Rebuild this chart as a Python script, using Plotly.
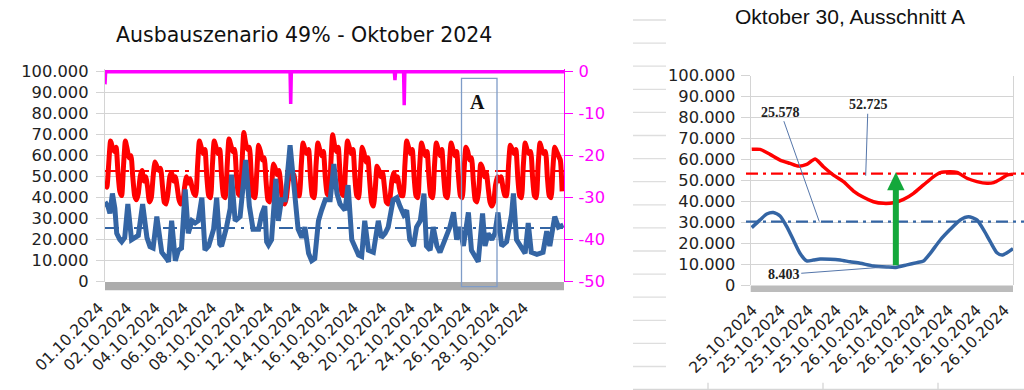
import plotly.graph_objects as go

W, H = 1024, 390

# ---------------- data: left chart (October 2024, hours since 01.10. 00:00) ----------------
# red series, 3-hourly samples per day (thousands)
red_day_hours = [0, 3, 6, 9, 12, 15, 18, 21]
red_daily_k = [
    [47, 45, 56, 67, 64, 62, 64, 52],  # 01 Tue
    [43, 41, 55, 67, 63, 59, 60, 50],  # 02
    [41, 39, 42, 50, 53, 48, 50, 45],  # 03 holiday
    [38, 40, 50, 57, 55, 53, 54, 46],  # 04
    [38, 37, 42, 50, 52, 48, 50, 45],  # 05 Sat
    [39, 37, 38, 45, 50, 47, 49, 45],  # 06 Sun
    [42, 41, 55, 67, 64, 61, 63, 50],  # 07
    [41, 40, 55, 67, 64, 61, 63, 50],  # 08
    [41, 40, 55, 68, 65, 62, 63, 51],  # 09
    [42, 41, 56, 71, 66, 63, 64, 51],  # 10
    [41, 40, 52, 65, 62, 58, 59, 48],  # 11
    [39, 38, 45, 56, 54, 51, 53, 46],  # 12 Sat
    [38, 37, 40, 48, 52, 49, 51, 46],  # 13 Sun
    [41, 41, 55, 66, 63, 61, 63, 50],  # 14
    [41, 40, 55, 66, 63, 60, 62, 50],  # 15
    [42, 41, 56, 70, 65, 62, 64, 51],  # 16
    [42, 41, 55, 67, 64, 61, 63, 50],  # 17
    [41, 40, 52, 64, 61, 57, 59, 48],  # 18
    [38, 36, 44, 55, 53, 50, 52, 45],  # 19 Sat
    [38, 37, 40, 48, 52, 48, 50, 45],  # 20 Sun
    [41, 41, 55, 67, 64, 61, 63, 50],  # 21
    [41, 40, 55, 66, 63, 60, 62, 50],  # 22
    [41, 40, 55, 66, 63, 60, 63, 50],  # 23
    [41, 40, 55, 66, 63, 60, 62, 50],  # 24
    [41, 40, 53, 64, 62, 58, 59, 48],  # 25
    [39, 38, 44, 56, 54, 50, 52, 45],  # 26 Sat
    [38, 36, 38, 46, 50, 48, 50, 45],  # 27 Sun
    [41, 41, 55, 65, 63, 61, 63, 50],  # 28
    [41, 40, 55, 66, 63, 61, 62, 50],  # 29
    [41, 40, 55, 66, 63, 61, 62, 50],  # 30
    [41, 40, 54, 64, 62, 60, 58, 43],  # 31
]

blue_hours = [0, 5, 8, 12, 16, 19, 24, 27, 32, 37, 43, 49, 54, 61, 68, 73, 78, 84, 88, 92,
              100, 103, 108, 114, 119, 124, 130, 135, 141, 146, 151, 157, 162, 168, 176, 181,
              186, 189, 197, 203, 205, 211, 219, 228, 234, 240, 249, 254, 259, 262, 265, 270,
              277, 281, 286, 292, 300, 308, 313, 319, 324, 330, 335, 340, 346, 351, 357, 365,
              371, 376, 381, 389, 394, 400, 405, 411, 416, 421, 427, 435, 443, 448, 454, 459,
              467, 473, 478, 484, 489, 494, 500, 505, 511, 517, 521, 527, 532, 538, 543, 548,
              554, 559, 565, 570, 575, 581, 589, 594, 600, 605, 612, 616, 621, 627, 632, 637,
              643, 651, 659, 662, 667, 673, 681, 686, 691, 700, 710, 716, 721, 729, 735, 743]
blue_k = [38, 35.7, 32.5, 42, 35, 23, 20, 19, 21, 37, 20, 21, 22, 37, 21, 16.7, 16, 31, 20, 14,
          11, 9.5, 29, 10, 15, 16, 44, 23, 29, 28, 29, 40, 15, 17, 25, 40,
          18, 17, 26, 35, 51, 29, 31, 58, 36, 25, 25, 32, 36, 19, 17.5, 20,
          49, 29, 39, 39, 65, 37, 25, 21, 26, 13.5, 10, 11, 29, 34, 39, 39,
          56, 42, 37, 34, 46, 20, 16.7, 12.7, 12, 29, 15, 14, 29, 21, 23, 26,
          39, 40, 36, 32, 34, 20, 17, 26, 29, 42, 17, 15, 26, 17, 14, 17.5,
          23, 26, 33, 20, 26, 17, 33, 15, 12, 9.5, 32.5, 17, 23, 20, 23, 33,
          17, 19, 32, 42, 20, 17, 13.5, 28, 14, 13, 14, 24, 17, 31, 26, 27]

magenta_hours = [0, 1, 300, 301, 302, 469, 470, 471, 484, 485, 486, 744]
magenta_vals = [-3, 0, 0, -7.7, 0, 0, -2, 0, 0, -8, 0, 0]

red_mean_left = 52725
blue_mean_left = 25578

left_xlabels = ["01.10.2024", "02.10.2024", "04.10.2024", "06.10.2024", "08.10.2024",
                "10.10.2024", "12.10.2024", "14.10.2024", "16.10.2024", "18.10.2024",
                "20.10.2024", "22.10.2024", "24.10.2024", "26.10.2024", "28.10.2024",
                "30.10.2024"]
left_y2_labels = ["-50", "-40", "-30", "-20", "-10", "0"]
left_y2_vals = [-50, -40, -30, -20, -10, 0]

# ---------------- data: right chart (hours since 25.10. 00:00) ----------------
r_hours = [12.14, 13.28, 14.66, 16.03, 17.40, 18.55, 19.69, 20.84, 21.98, 23.36, 24.73,
           26.11, 27.48, 28.85, 30.23, 31.60, 32.98, 34.35, 35.72, 37.10, 38.02, 39.39,
           40.31, 41.68, 43.05, 44.43, 45.34, 46.26, 47.18, 48.0]
r_red_k = [64.8, 64.8, 62.4, 59.7, 58.1, 56.8, 57.6, 60.2, 56.5, 52.5, 49.4,
           44.9, 41.9, 39.8, 39.0, 39.3, 40.9, 43.8, 47.8, 51.8, 53.7, 54.1,
           53.8, 51.0, 49.4, 48.6, 48.9, 50.5, 52.5, 52.9]
b_hours = [12.14, 13.28, 14.2, 15.11, 16.03, 16.95, 17.86, 18.78, 19.69, 20.61, 21.53,
           22.9, 24.27, 25.65, 27.02, 28.85, 30.69, 31.92, 33.44, 34.81, 35.72, 36.64,
           38.02, 39.39, 40.76, 41.91, 43.05, 43.97, 44.88, 45.80, 46.49, 47.18, 48.0]
b_blue_k = [27.4, 31.1, 33.9, 34.6, 33.0, 27.9, 21.5, 15.1, 11.5, 11.9, 12.4,
            12.3, 11.9, 11.1, 10.4, 9.1, 8.6, 8.403, 9.6, 10.7, 11.5, 15.1,
            21.5, 26.6, 31.1, 32.6, 31.1, 26.3, 20.7, 15.4, 14.3, 15.4, 17.4]
red_mean_right_line = 53200
blue_mean_right_line = 30250
right_xlabels = ["25.10.2024"] * 4 + ["26.10.2024"] * 6
value_labels = {"red_mean": "52.725", "blue_mean": "25.578", "blue_min": "8.403"}

# ---------------- helpers ----------------
def PX(x):
    return x / W


def PY(y):
    return 1 - y / H


RED = "#ff0000"
BLUE = "#3465a4"
MAG = "#ff00ff"
GRID = "#d4d4d4"
TXT = "#222222"
TICKFONT = dict(family="DejaVu Sans", size=15.5, color=TXT)
YTICKFONT = dict(family="DejaVu Sans", size=16.3, color=TXT)

red_hours = [d * 24 + h for d in range(len(red_daily_k)) for h in red_day_hours]
red_vals = [v * 1000 for day in red_daily_k for v in day]
blue_vals = [v * 1000 for v in blue_k]
r_red = [v * 1000 for v in r_red_k]
b_blue = [v * 1000 for v in b_blue_k]

fig = go.Figure()

# left chart: mean lines first (behind series)
fig.add_trace(go.Scatter(x=[0, 744], y=[red_mean_left] * 2, mode="lines", xaxis="x", yaxis="y",
                         line=dict(color=RED, width=2, dash="14px,6px,4px,6px"), hoverinfo="skip"))
fig.add_trace(go.Scatter(x=[0, 744], y=[blue_mean_left] * 2, mode="lines", xaxis="x", yaxis="y",
                         line=dict(color=BLUE, width=2, dash="14px,6px,3px,6px"), hoverinfo="skip"))
fig.add_trace(go.Scatter(x=red_hours, y=red_vals, mode="lines", xaxis="x", yaxis="y",
                         line=dict(color=RED, width=5, shape="spline", smoothing=0.5)))
fig.add_trace(go.Scatter(x=blue_hours, y=blue_vals, mode="lines", xaxis="x", yaxis="y",
                         line=dict(color=BLUE, width=5)))
fig.add_trace(go.Scatter(x=magenta_hours, y=magenta_vals, mode="lines", xaxis="x", yaxis="y2",
                         line=dict(color=MAG, width=3.5)))

# right chart
fig.add_trace(go.Scatter(x=r_hours, y=r_red, mode="lines", xaxis="x2", yaxis="y3",
                         line=dict(color=RED, width=3.5, shape="spline", smoothing=0.6)))
fig.add_trace(go.Scatter(x=b_hours, y=b_blue, mode="lines", xaxis="x2", yaxis="y3",
                         line=dict(color=BLUE, width=3.5, shape="spline", smoothing=0.6)))

# geometry
L_X0, L_X1 = 105, 564
L_YTOP, L_YBOT = 69, 281.7         # extended top so the 0-line is not clipped
L_Y100 = 71.7
yext = (L_YBOT - L_YTOP) / (L_YBOT - L_Y100)
R_X0, R_X1 = 750.7, 1013
R_YTOP, R_YBOT = 75.7, 285

n_l = len(left_xlabels)
l_step = 28.33 / (L_X1 - L_X0) * 744
n_r = len(right_xlabels)
r_step = 28.0 / (R_X1 - R_X0) * 36

fig.update_layout(
    width=W, height=H, margin=dict(l=0, r=0, t=0, b=0, autoexpand=False),
    paper_bgcolor="white", plot_bgcolor="white", showlegend=False,
    separators=",.",
    xaxis=dict(domain=[PX(L_X0), PX(L_X1)], range=[0, 744], showgrid=False, zeroline=False,
               tickmode="array", tickvals=[i * l_step for i in range(n_l)], ticktext=left_xlabels,
               tickangle=-45, tickfont=TICKFONT, ticks="", ticklabelshift=-6, ticklabelstandoff=13,
               anchor="y", automargin=False),
    yaxis=dict(domain=[PY(L_YBOT), PY(L_YTOP)], range=[0, 100000 * yext],
               tickmode="array", tickvals=list(range(0, 100001, 10000)), tickformat=",d",
               showgrid=True, gridcolor=GRID, gridwidth=1.3, zeroline=False,
               showline=True, linecolor=GRID, linewidth=1.3,
               ticks="outside", ticklen=8, tickcolor=GRID, tickwidth=1.3, ticklabelstandoff=4,
               tickfont=YTICKFONT, anchor="x", automargin=False),
    yaxis2=dict(overlaying="y", side="right", anchor="x", range=[-50, -50 + 50 * yext],
                tickmode="array", tickvals=left_y2_vals, ticktext=left_y2_labels,
                showgrid=False, zeroline=False, showline=True, linecolor=MAG, linewidth=1.3,
                ticks="outside", ticklen=8, tickcolor=MAG, tickwidth=1.3, automargin=False,
                ticklabelstandoff=2,
                tickfont=dict(family="DejaVu Sans", size=16.3, color=MAG)),
    xaxis2=dict(domain=[PX(R_X0), PX(R_X1)], range=[12, 48], showgrid=False, zeroline=False,
                tickmode="array", tickvals=[12 + i * r_step for i in range(n_r)], ticktext=right_xlabels,
                tickangle=-45, tickfont=TICKFONT, ticks="", ticklabelshift=2, ticklabelstandoff=12,
                anchor="y3", automargin=False),
    yaxis3=dict(domain=[PY(R_YBOT), PY(R_YTOP)], range=[0, 100000],
                tickmode="array", tickvals=list(range(0, 100001, 10000)), tickformat=",d",
                showgrid=True, gridcolor=GRID, gridwidth=1.3, zeroline=False,
                showline=True, mirror=True, linecolor=GRID, linewidth=1.3,
                ticks="outside", ticklen=9, tickcolor=GRID, tickwidth=1.3, ticklabelstandoff=2,
                tickfont=YTICKFONT, anchor="x2", automargin=False),
)

shapes = []
# category tick bands
shapes.append(dict(type="rect", xref="paper", yref="paper", x0=PX(L_X0), x1=PX(L_X1),
                   y0=PY(290.3), y1=PY(282), fillcolor="#acacac", line=dict(width=0), layer="above"))
shapes.append(dict(type="rect", xref="paper", yref="paper", x0=PX(R_X0), x1=PX(R_X1),
                   y0=PY(292), y1=PY(285.5), fillcolor="#bcbcbc", line=dict(width=0), layer="above"))
# box A
shapes.append(dict(type="rect", xref="paper", yref="paper", x0=PX(461.5), x1=PX(497),
                   y0=PY(286.7), y1=PY(78.3), line=dict(color="#7f9cc8", width=1.3), layer="above"))
# spreadsheet remnants on the left of the right chart
for k in range(17):
    yy = 20 + 23.1 * k
    shapes.append(dict(type="line", xref="paper", yref="paper", x0=PX(633), x1=PX(666),
                       y0=PY(yy), y1=PY(yy), line=dict(color="#dedede", width=1.3), layer="above"))
shapes.append(dict(type="line", xref="paper", yref="paper", x0=PX(633), x1=1,
                   y0=PY(389.3), y1=PY(389.3), line=dict(color="#d6d6d6", width=1.3)))
for xx in (708, 823, 938):
    shapes.append(dict(type="line", xref="paper", yref="paper", x0=PX(xx), x1=PX(xx),
                       y0=PY(389.3), y1=PY(382.7), line=dict(color="#d6d6d6", width=1.3)))
# right chart mean lines (extend past the plot to the page edge)
shapes.append(dict(type="line", xref="paper", yref="y3", x0=PX(746), x1=1,
                   y0=red_mean_right_line, y1=red_mean_right_line,
                   line=dict(color=RED, width=2.2, dash="12px,5px,3px,5px"), layer="above"))
shapes.append(dict(type="line", xref="paper", yref="y3", x0=PX(746), x1=1,
                   y0=blue_mean_right_line, y1=blue_mean_right_line,
                   line=dict(color=BLUE, width=2.2, dash="12px,5px,3px,5px"), layer="above"))
# green arrow from blue minimum up to the red mean
imin = b_blue.index(min(b_blue))
ax_x, ax_y0 = b_hours[imin], b_blue[imin]
px_per_h = (R_X1 - R_X0) / 36
px_per_v = (R_YBOT - R_YTOP) / 100000
tip = red_mean_right_line + 1.3 / px_per_v * 1  # tip slightly above line
head_h = 18 / px_per_v
head_w = 8.7 / px_per_h
GREEN = "#14a83b"
shapes.append(dict(type="line", xref="x2", yref="y3", x0=ax_x, x1=ax_x, y0=ax_y0 + 1000,
                   y1=tip - head_h + 500, line=dict(color=GREEN, width=6), layer="above"))
shapes.append(dict(type="path", xref="x2", yref="y3",
                   path=f"M {ax_x - head_w},{tip - head_h} L {ax_x + head_w},{tip - head_h} L {ax_x},{tip} Z",
                   fillcolor=GREEN, line=dict(width=0), layer="above"))
fig.update_layout(shapes=shapes)

ann = []
ann.append(dict(text="Ausbauszenario 49% - Oktober 2024", xref="paper", yref="paper",
                x=PX(303.5), y=PY(35), showarrow=False, xanchor="center", yanchor="middle",
                font=dict(family="DejaVu Sans", size=20.5, color="#111111")))
ann.append(dict(text="Oktober 30, Ausschnitt A", xref="paper", yref="paper",
                x=PX(850), y=PY(17), showarrow=False, xanchor="center", yanchor="middle",
                font=dict(family="Liberation Sans", size=21, color="#111111")))
ann.append(dict(text="<b>A</b>", xref="paper", yref="paper", x=PX(477), y=PY(102),
                showarrow=False, xanchor="center", yanchor="middle",
                font=dict(family="Liberation Serif", size=20, color="#111111")))
LBL = dict(family="Liberation Serif", size=14, color="#222222")
LEAD = "#5576aa"
ann.append(dict(text="<b>" + value_labels["red_mean"] + "</b>", xref="x2", yref="y3",
                x=12 + (865.7 - R_X0) / px_per_h, y=red_mean_right_line - 1000,
                ax=2.3, ay=-71, showarrow=True, arrowhead=0, arrowwidth=1, arrowcolor=LEAD,
                standoff=0, startstandoff=0, font=LBL))
ann.append(dict(text="<b>" + value_labels["blue_mean"] + "</b>", xref="x2", yref="y3",
                x=12 + (819.3 - R_X0) / px_per_h, y=blue_mean_right_line,
                ax=-38.6, ay=-109.5, showarrow=True, arrowhead=0, arrowwidth=1, arrowcolor=LEAD,
                standoff=0, font=LBL))
ann.append(dict(text="<b>" + value_labels["blue_min"] + "</b>", xref="x2", yref="y3",
                x=ax_x - 0.7, y=ax_y0 + 400,
                ax=-107, ay=8, showarrow=True, arrowhead=0, arrowwidth=1, arrowcolor=LEAD,
                standoff=0, font=LBL))
fig.update_layout(annotations=ann)

fig.write_html("out.html")
